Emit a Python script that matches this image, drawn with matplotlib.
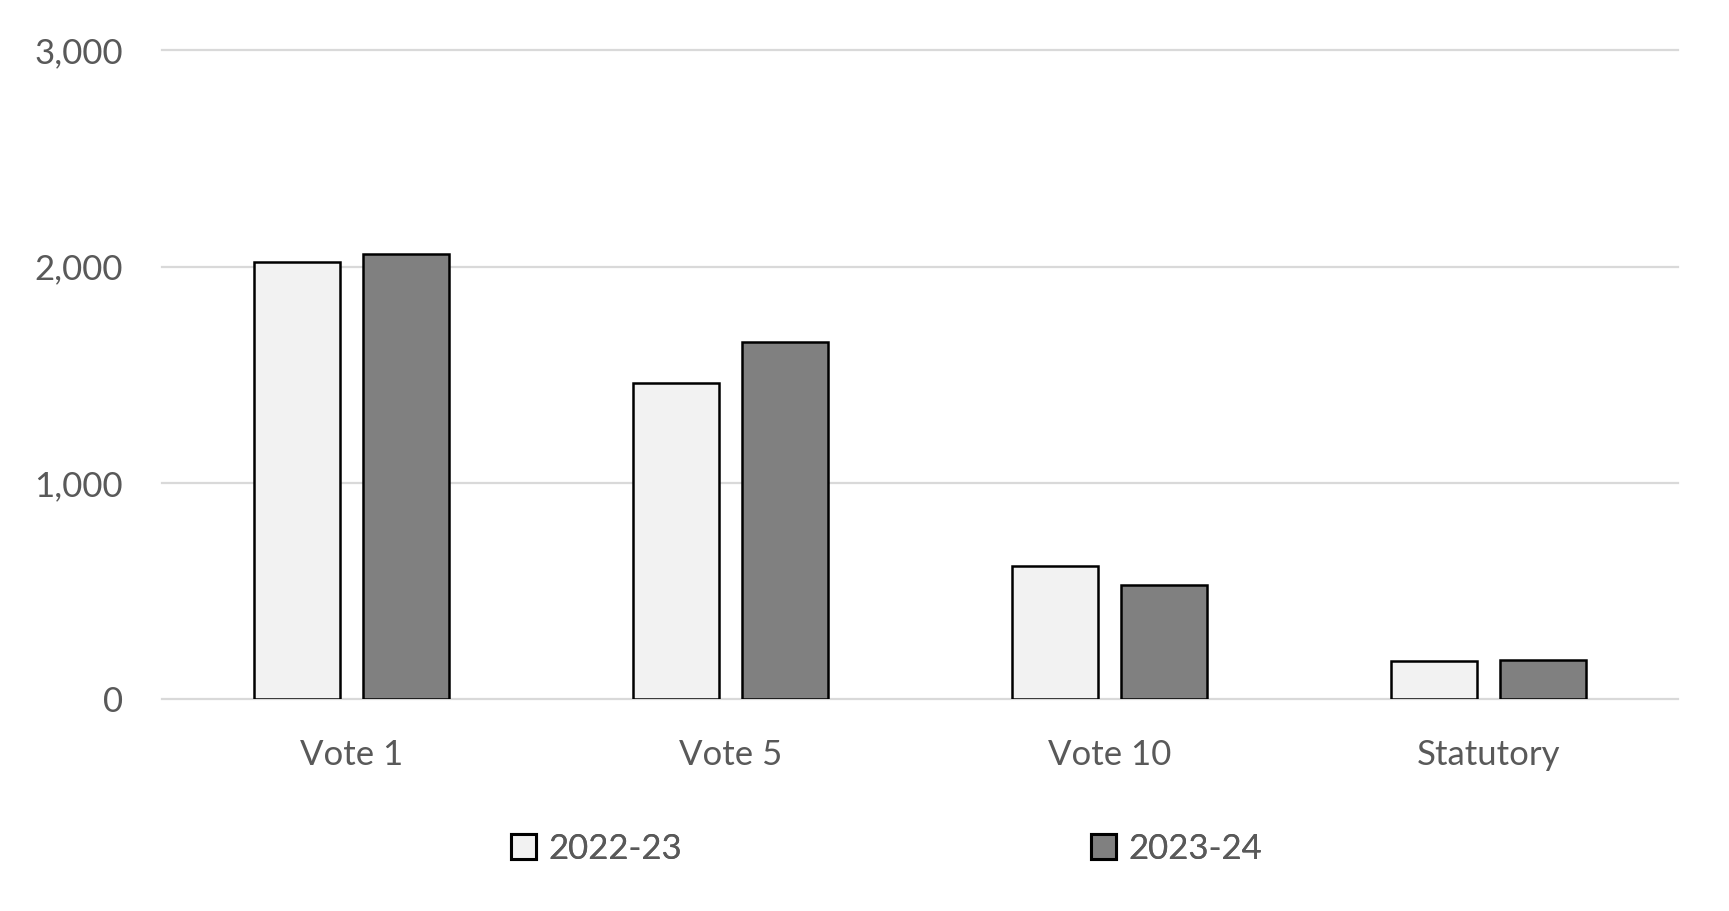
import numpy as np
import matplotlib.pyplot as plt
from matplotlib.patches import Patch
from matplotlib.ticker import FuncFormatter

# data
categories = ['Vote 1', 'Vote 5', 'Vote 10', 'Statutory']
years = ['2022-23', '2023-24']
values_2022 = [2020, 1460, 616, 174]
values_2023 = [2060, 1651, 526, 179]
y_ticks = [0, 1000, 2000, 3000]

plt.rcParams['font.family'] = ['Lato', 'DejaVu Sans']
text_col = '#595959'
fills = ['#f2f2f2', '#808080']

fig = plt.figure(figsize=(17.29, 9.11), dpi=100)
ax = fig.add_axes([0.0937, 0.2327, 0.8768, 0.7121])

x = np.arange(len(categories))
width = 0.229
offset = 0.144
ax.bar(x - offset, values_2022, width, color=fills[0], edgecolor='black',
       linewidth=1.8, zorder=3)
ax.bar(x + offset, values_2023, width, color=fills[1], edgecolor='black',
       linewidth=1.8, zorder=3)

ax.set_xlim(-0.5, len(categories) - 0.5)
ax.set_ylim(0, 3000)
ax.set_yticks(y_ticks)
ax.yaxis.set_major_formatter(FuncFormatter(lambda v, p: f'{int(v):,}'))
ax.set_xticks(x)
ax.set_xticklabels(categories)

ax.yaxis.grid(True, color='#d9d9d9', linewidth=1.6, zorder=0)
for gl in ax.get_ygridlines():
    gl.set_clip_on(False)
ax.set_axisbelow(True)
for s in ax.spines.values():
    s.set_visible(False)

ax.tick_params(axis='y', length=0, pad=28, labelsize=25, labelcolor=text_col)
ax.tick_params(axis='x', length=0, pad=29, labelsize=25, labelcolor=text_col)

# two legend entries, placed apart like the original
leg_x = [511 / 1729, 1091 / 1729]
for i in range(2):
    h = Patch(facecolor=fills[i], edgecolor='black', linewidth=2.2)
    lg = fig.legend([h], [years[i]], loc='center left',
                    bbox_to_anchor=(leg_x[i], 1 - 849 / 911),
                    frameon=False, fontsize=25, borderpad=0,
                    borderaxespad=0, handlelength=0.72, handleheight=0.72,
                    handletextpad=0.35)
    for t in lg.get_texts():
        t.set_color(text_col)
    fig.add_artist(lg)

fig.savefig('out.png', dpi=100)
